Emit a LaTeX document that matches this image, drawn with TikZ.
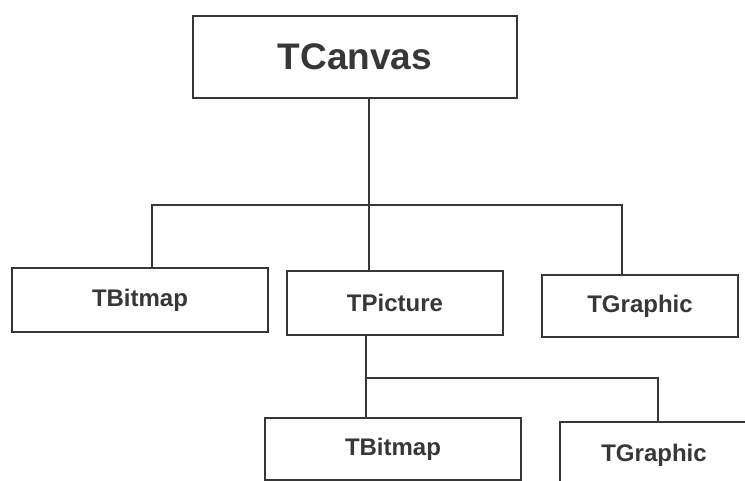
\documentclass[tikz,border=0pt]{standalone}
\usepackage{fontspec}
\setmainfont{Liberation Sans}
\usepackage{tikz}
\usetikzlibrary{positioning,calc}
\definecolor{inkgray}{RGB}{55, 55, 55}

\begin{document}
\begin{tikzpicture}[x=1pt, y=-1pt, line width=1.2pt, draw=inkgray,
    classbox/.style={draw=inkgray, rectangle, inner sep=0pt, text=inkgray, font=\fontsize{24}{28}\selectfont\bfseries},
    link/.style={draw=inkgray, line width=1.1pt}]
    \clip (0,0) rectangle (745,481);

    \node[classbox, minimum width=324pt, minimum height=82pt, font=\fontsize{37}{42}\selectfont\bfseries] (canvas) at (355,57) {TCanvas};
    \node[classbox, minimum width=256pt, minimum height=64pt] (bitmapA) at (140,300) {TBitmap};
    \node[classbox, minimum width=216pt, minimum height=64pt] (pictureA) at (395,303) {TPicture};
    \node[classbox, minimum width=196pt, minimum height=62pt] (graphicA) at (640,306) {TGraphic};
    \node[classbox, minimum width=256pt, minimum height=62pt] (bitmapB) at (393,449) {TBitmap};
    \node[classbox, minimum width=188pt, minimum height=66pt] (graphicB) at (654,455) {TGraphic};

    \coordinate (jointop) at (369,205);
    \coordinate (joinlow) at (366,378);

    \path[link] (canvas.south -| jointop) -- (pictureA.north -| jointop);
    \path[link] ([xshift=12pt]bitmapA.north) |- (jointop) -| ([xshift=-18pt]graphicA.north);
    \path[link] (pictureA.south -| joinlow) -- (bitmapB.north -| joinlow);
    \path[link] (joinlow) -| ([xshift=4pt]graphicB.north);
\end{tikzpicture}
\end{document}
